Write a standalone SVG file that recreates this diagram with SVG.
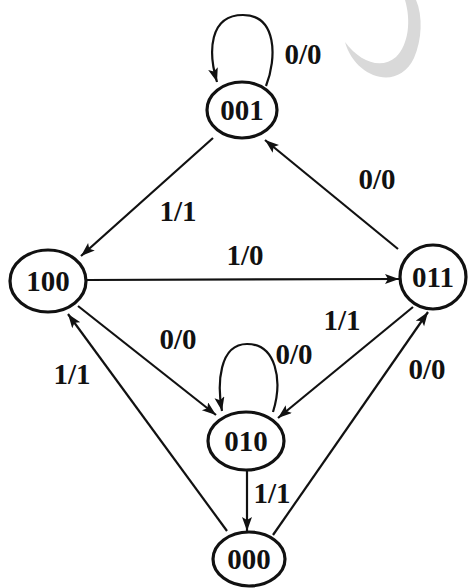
<svg xmlns="http://www.w3.org/2000/svg" width="476" height="588" viewBox="0 0 476 588">
<style>
.node ellipse{fill:none;stroke:#111;stroke-width:3.2}
.nt{font-family:"Liberation Serif","DejaVu Serif","Times New Roman",serif;font-size:29px;font-weight:bold;fill:#111;text-anchor:middle}
.lbl{font-family:"Liberation Serif","DejaVu Serif","Times New Roman",serif;font-size:29px;font-weight:bold;fill:#111;text-anchor:middle}
.edge{fill:none;stroke:#111;stroke-width:2.2}
</style>
<defs>
<marker id="arr" markerUnits="userSpaceOnUse" markerWidth="16" markerHeight="12" refX="14" refY="5" orient="auto">
<path d="M0,0 L14,5 L0,10 L3,5 Z" fill="#111"/>
</marker>
</defs>
<rect width="476" height="588" fill="#fff"/>
<path d="M345,42 C355,78 398,92 414,58 C422,40 423,16 416,0 L405,0 C411,20 409,44 396,57 C381,70 360,62 345,42 Z" fill="#d9d9d9"/>
<g id="connectors">
<path class="edge" marker-end="url(#arr)" d="M266,86 C277,58 277,15 243,15 C209,15 208,52 217,82"/>
<path class="edge" marker-end="url(#arr)" d="M213,138 L81,256"/>
<path class="edge" marker-end="url(#arr)" d="M398,249 L265,140"/>
<path class="edge" marker-end="url(#arr)" d="M87,280 L399,279"/>
<path class="edge" marker-end="url(#arr)" d="M78,306 L216,415"/>
<path class="edge" marker-end="url(#arr)" d="M227,531 L68,314"/>
<path class="edge" marker-end="url(#arr)" d="M413,307 L278,418"/>
<path class="edge" marker-end="url(#arr)" d="M273,535 L428,312"/>
<path class="edge" marker-end="url(#arr)" d="M273,412 C283,380 276,344 247,344 C219,344 217,384 222,411"/>
<path class="edge" marker-end="url(#arr)" d="M247,471 L247,531"/>
<text class="lbl" x="303" y="64">0/0</text>
<text class="lbl" x="178" y="221">1/1</text>
<text class="lbl" x="377" y="189">0/0</text>
<text class="lbl" x="245" y="265">1/0</text>
<text class="lbl" x="178" y="349">0/0</text>
<text class="lbl" x="72" y="384">1/1</text>
<text class="lbl" x="294" y="364">0/0</text>
<text class="lbl" x="342" y="330">1/1</text>
<text class="lbl" x="427" y="379">0/0</text>
<text class="lbl" x="272" y="503">1/1</text>
</g>
<g id="n001" class="node"><ellipse cx="242" cy="110" rx="35" ry="28"/><text class="nt" x="242" y="120">001</text></g>
<g id="n100" class="node"><ellipse cx="48" cy="281" rx="38" ry="31"/><text class="nt" x="48" y="291">100</text></g>
<g id="n011" class="node"><ellipse cx="433" cy="277" rx="33" ry="32"/><text class="nt" x="433" y="287">011</text></g>
<g id="n010" class="node"><ellipse cx="246" cy="441" rx="38" ry="29"/><text class="nt" x="246" y="451">010</text></g>
<g id="n000" class="node"><ellipse cx="249" cy="559" rx="36" ry="27"/><text class="nt" x="249" y="569">000</text></g>
</svg>
